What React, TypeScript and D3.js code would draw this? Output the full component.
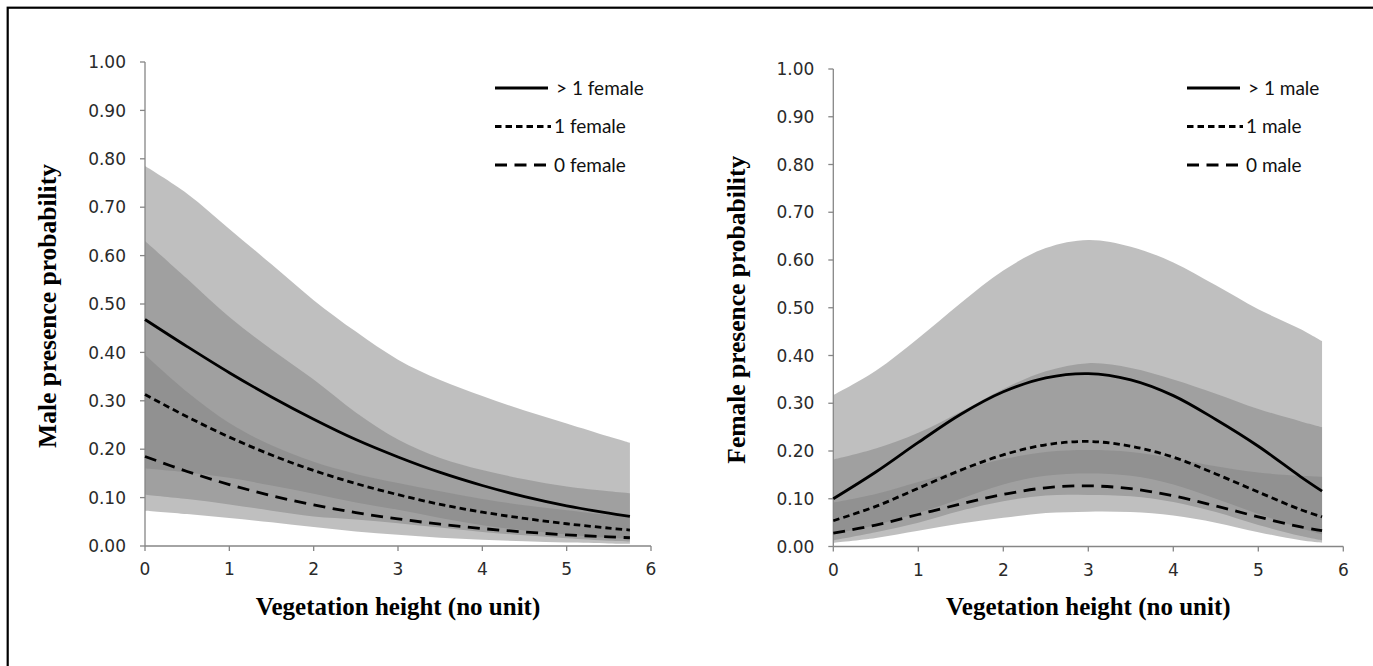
import React from "react";
import * as d3 from "d3";

// ---- data ----
const vegX = [0, 0.5, 1, 1.5, 2, 2.5, 3, 3.5, 4, 4.5, 5, 5.5, 5.75];
const xTicks = [0, 1, 2, 3, 4, 5, 6];
const yTicks = [0, 0.1, 0.2, 0.3, 0.4, 0.5, 0.6, 0.7, 0.8, 0.9, 1.0];

// Left panel: male presence probability
const maleMoreThan1 = [0.468, 0.412, 0.358, 0.308, 0.262, 0.22, 0.184, 0.152, 0.125, 0.102, 0.083, 0.068, 0.061];
const male1 = [0.313, 0.267, 0.225, 0.188, 0.156, 0.129, 0.106, 0.086, 0.07, 0.057, 0.046, 0.037, 0.033];
const male0 = [0.185, 0.154, 0.127, 0.104, 0.085, 0.069, 0.056, 0.045, 0.036, 0.029, 0.023, 0.019, 0.017];
const maleMoreThan1Upper = [0.785, 0.728, 0.655, 0.582, 0.508, 0.443, 0.385, 0.343, 0.31, 0.28, 0.253, 0.226, 0.213];
const maleMoreThan1Lower = [0.16, 0.152, 0.141, 0.125, 0.108, 0.09, 0.075, 0.058, 0.043, 0.032, 0.024, 0.017, 0.015];
const male1Upper = [0.63, 0.552, 0.473, 0.406, 0.344, 0.276, 0.22, 0.182, 0.157, 0.138, 0.123, 0.113, 0.109];
const male1Lower = [0.106, 0.097, 0.086, 0.073, 0.061, 0.055, 0.047, 0.038, 0.029, 0.022, 0.016, 0.011, 0.0095];
const male0Upper = [0.395, 0.318, 0.254, 0.208, 0.174, 0.149, 0.13, 0.113, 0.097, 0.084, 0.074, 0.064, 0.059];
const male0Lower = [0.073, 0.066, 0.058, 0.049, 0.039, 0.03, 0.023, 0.017, 0.013, 0.0097, 0.0072, 0.0054, 0.0046];

// Right panel: female presence probability
const femMoreThan1 = [0.1, 0.156, 0.218, 0.277, 0.324, 0.353, 0.362, 0.349, 0.316, 0.266, 0.21, 0.146, 0.116];
const fem1 = [0.054, 0.084, 0.122, 0.16, 0.192, 0.213, 0.22, 0.21, 0.187, 0.152, 0.114, 0.077, 0.062];
const fem0 = [0.028, 0.045, 0.067, 0.089, 0.109, 0.123, 0.127, 0.121, 0.106, 0.085, 0.062, 0.041, 0.033];
const femMoreThan1Upper = [0.317, 0.368, 0.436, 0.51, 0.578, 0.625, 0.642, 0.628, 0.595, 0.547, 0.497, 0.455, 0.43];
const femMoreThan1Lower = [0.026, 0.045, 0.07, 0.1, 0.13, 0.148, 0.153, 0.148, 0.13, 0.1, 0.068, 0.038, 0.025];
const fem1Upper = [0.182, 0.205, 0.238, 0.282, 0.33, 0.367, 0.384, 0.374, 0.35, 0.32, 0.288, 0.262, 0.25];
const fem1Lower = [0.013, 0.03, 0.05, 0.075, 0.095, 0.107, 0.108, 0.105, 0.093, 0.072, 0.045, 0.022, 0.013];
const fem0Upper = [0.092, 0.11, 0.135, 0.16, 0.183, 0.198, 0.202, 0.198, 0.185, 0.168, 0.155, 0.148, 0.146];
const fem0Lower = [0.008, 0.018, 0.033, 0.048, 0.06, 0.07, 0.073, 0.072, 0.065, 0.05, 0.03, 0.013, 0.008];

const leftLegend = ["> 1 female", "1 female", "0 female"];
const rightLegend = ["> 1 male", "1 male", "0 male"];

const DASHES = ["none", "6.5 4", "12 7.5"];
const BAND_FILL = "#838383";
const BAND_OPACITY = 0.516;
const AXIS_COLOR = "#868686";
const TICK_FONT = "'DejaVu Sans', sans-serif";
const LEGEND_FONT = "Lato, 'Open Sans', sans-serif";
const TITLE_FONT = "'Liberation Serif', 'Times New Roman', serif";

type PanelProps = {
  x0: number; x1: number; yTop: number; yBottom: number;
  lines: number[][];
  bands: [number[], number[]][];
  legend: string[];
  legendX: number;
  yTitle: string;
  yTitleX: number;
};

function Panel(p: PanelProps) {
  const xs = d3.scaleLinear().domain([0, 6]).range([p.x0, p.x1]);
  const ys = d3.scaleLinear().domain([0, 1]).range([p.yBottom, p.yTop]);
  const curve = d3.curveCatmullRom.alpha(0.5);
  const area = d3
    .area<number>()
    .x((_, i) => xs(vegX[i]))
    .curve(curve);
  const line = d3
    .line<number>()
    .x((_, i) => xs(vegX[i]))
    .y((d) => ys(d))
    .curve(curve);
  const legendRows = [88, 126.5, 165];
  return (
    <g>
      {p.bands.map(([up, lo], k) => (
        <path
          key={"b" + k}
          d={
            area
              .y0((_, i) => ys(lo[i]))
              .y1((_, i) => ys(up[i]))(up) || ""
          }
          fill={BAND_FILL}
          fillOpacity={BAND_OPACITY}
        />
      ))}
      {/* axes */}
      <line x1={p.x0} x2={p.x0} y1={ys(1)} y2={ys(0)} stroke={AXIS_COLOR} strokeWidth={1.3} />
      <line x1={p.x0} x2={p.x1} y1={ys(0)} y2={ys(0)} stroke={AXIS_COLOR} strokeWidth={1.3} />
      {yTicks.map((t) => (
        <g key={"yt" + t}>
          <line x1={p.x0 - 5} x2={p.x0} y1={ys(t)} y2={ys(t)} stroke={AXIS_COLOR} strokeWidth={1.3} />
          <text
            x={p.x0 - 19}
            y={ys(t)}
            dy="0.36em"
            textAnchor="end"
            fontFamily={TICK_FONT}
            fontSize={17}
            fill="#2a2a2a"
          >
            {t.toFixed(2)}
          </text>
        </g>
      ))}
      {xTicks.map((t) => (
        <g key={"xt" + t}>
          <line x1={xs(t)} x2={xs(t)} y1={ys(0)} y2={ys(0) + 5} stroke={AXIS_COLOR} strokeWidth={1.3} />
          <text
            x={xs(t)}
            y={ys(0) + 23}
            dy="0.36em"
            textAnchor="middle"
            fontFamily={TICK_FONT}
            fontSize={17}
            fill="#2a2a2a"
          >
            {t}
          </text>
        </g>
      ))}
      {p.lines.map((vals, k) => (
        <path
          key={"l" + k}
          d={line(vals) || ""}
          fill="none"
          stroke="#000"
          strokeWidth={2.8}
          strokeDasharray={DASHES[k]}
        />
      ))}
      {/* legend */}
      {p.legend.map((lab, k) => (
        <g key={"lg" + k}>
          <line
            x1={p.legendX}
            x2={p.legendX + (k === 0 ? 53 : k === 1 ? 56 : 55)}
            y1={legendRows[k]}
            y2={legendRows[k]}
            stroke="#000"
            strokeWidth={2.8}
            strokeDasharray={DASHES[k]}
          />
          <text
            x={p.legendX + (k === 0 ? 61 : 59)}
            y={legendRows[k]}
            dy="0.36em"
            fontFamily={LEGEND_FONT}
            fontSize={19}
            fill="#111"
          >
            {lab}
          </text>
        </g>
      ))}
      {/* titles */}
      <text
        x={(p.x0 + p.x1) / 2}
        y={615}
        textAnchor="middle"
        fontFamily={TITLE_FONT}
        fontWeight="bold"
        fontSize={25}
        fill="#000"
      >
        Vegetation height (no unit)
      </text>
      <text
        transform={`translate(${p.yTitleX},${(p.yTop + p.yBottom) / 2 + 2}) rotate(-90)`}
        textAnchor="middle"
        fontFamily={TITLE_FONT}
        fontWeight="bold"
        fontSize={25.5}
        fill="#000"
      >
        {p.yTitle}
      </text>
    </g>
  );
}

export default function App() {
  return (
    <svg
      width={1373}
      height={666}
      style={{ position: "absolute", left: 0, top: 0, background: "#fff" }}
    >
      <rect x={0} y={0} width={1373} height={666} fill="#fff" />
      <rect x={7.7} y={7.7} width={1400} height={700} fill="none" stroke="#000" strokeWidth={2.2} />
      <Panel
        x0={145}
        x1={651}
        yTop={62}
        yBottom={546}
        lines={[maleMoreThan1, male1, male0]}
        bands={[
          [maleMoreThan1Upper, maleMoreThan1Lower],
          [male1Upper, male1Lower],
          [male0Upper, male0Lower],
        ]}
        legend={leftLegend}
        legendX={495}
        yTitle="Male presence probability"
        yTitleX={56}
      />
      <Panel
        x0={833.3}
        x1={1343.3}
        yTop={69}
        yBottom={546.5}
        lines={[femMoreThan1, fem1, fem0]}
        bands={[
          [femMoreThan1Upper, femMoreThan1Lower],
          [fem1Upper, fem1Lower],
          [fem0Upper, fem0Lower],
        ]}
        legend={rightLegend}
        legendX={1187}
        yTitle="Female presence probability"
        yTitleX={745}
      />
    </svg>
  );
}
